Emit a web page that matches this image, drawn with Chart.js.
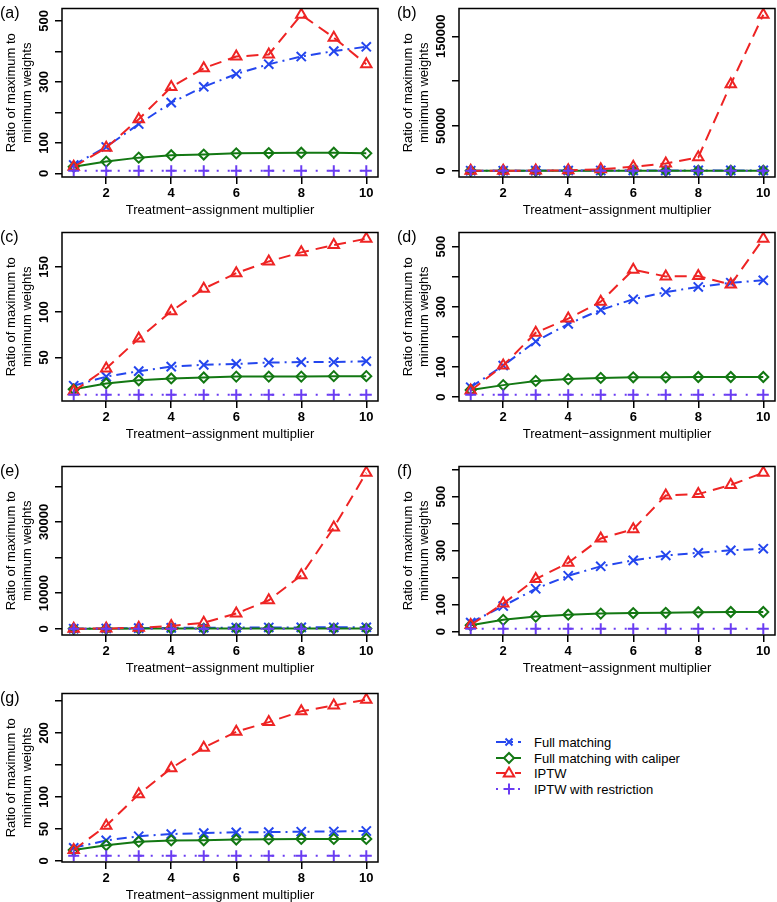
<!DOCTYPE html>
<html>
<head>
<title>Ratio of maximum to minimum weights</title>
<script src="https://cdn.jsdelivr.net/npm/chart.js"></script>
<style>
  body { margin: 0; width: 777px; height: 902px; overflow: hidden; background: #fff; position: relative; }
  canvas { position: absolute; }
  #legend { position: absolute; left: 496px; top: 735px; font: 13px "Liberation Sans", Arial, sans-serif; color: #000; }
  .row { position: relative; height: 15.5px; }
  .row svg { position: absolute; left: 0; top: 0; }
  .row span { position: absolute; left: 38px; top: 0; line-height: 15.5px; white-space: nowrap; }
</style>
</head>
<body>
<canvas id="pa" width="388" height="222" style="left:0px; top:0px"></canvas>
<canvas id="pb" width="388" height="222" style="left:397px; top:0px"></canvas>
<canvas id="pc" width="388" height="222" style="left:0px; top:224px"></canvas>
<canvas id="pd" width="388" height="222" style="left:397px; top:224px"></canvas>
<canvas id="pe" width="388" height="222" style="left:0px; top:458px"></canvas>
<canvas id="pf" width="388" height="222" style="left:397px; top:458px"></canvas>
<canvas id="pg" width="388" height="222" style="left:0px; top:685px"></canvas>
<div id="legend"></div>

<script>
// x values and series names
const multiplier = [1, 2, 3, 4, 5, 6, 7, 8, 9, 10];
const xTicks = [2, 4, 6, 8, 10];
const seriesNames = ['Full matching', 'Full matching with caliper', 'IPTW', 'IPTW with restriction'];

// (a)
const aFull    = [28, 87, 162, 232, 284, 326, 358, 383, 401, 415];
const aCaliper = [22, 39, 52, 60, 62, 66, 67, 68, 68, 66];
const aIptw    = [22, 84, 178, 283, 345, 383, 390, 520, 445, 358];
const aRestr   = [9, 9, 9, 9, 9, 9, 9, 9, 9, 9];
const aTicks   = [0, 100, 200, 300, 400, 500];
const aLabels  = ['0', '100', '', '300', '', '500'];

// (b)
const bFull    = [30, 95, 170, 240, 300, 340, 370, 395, 410, 425];
const bCaliper = [20, 40, 55, 62, 65, 68, 69, 70, 70, 70];
const bIptw    = [20, 80, 200, 500, 1600, 4500, 8000, 15000, 96500, 174000];
const bRestr   = [9, 9, 9, 9, 9, 9, 9, 9, 9, 9];
const bTicks   = [0, 50000, 100000, 150000];
const bLabels  = ['0', '50000', '', '150000'];

// (c)
const cFull    = [19, 29, 35, 40, 42, 43, 44.5, 45, 45, 46];
const cCaliper = [15, 21.5, 25, 27, 28, 29, 29, 29, 29.5, 29.5];
const cIptw    = [12.8, 38, 71, 101, 126, 143, 156, 166, 174, 181];
const cRestr   = [9, 9, 9, 9, 9, 9, 9, 9, 9, 9];
const cTicks   = [50, 100, 150];
const cLabels  = ['50', '100', '150'];

// (d)
const dFull    = [33, 105, 185, 243, 290, 325, 349, 366, 380, 388];
const dCaliper = [24, 40, 54, 60, 64, 66, 66, 67, 67, 67];
const dIptw    = [22, 105, 214, 261, 317, 423, 401, 402, 374, 526];
const dRestr   = [8, 8, 8, 8, 8, 8, 8, 8, 8, 8];
const dTicks   = [0, 100, 200, 300, 400, 500];
const dLabels  = ['0', '100', '', '300', '', '500'];

// (e)
const eFull    = [30, 100, 180, 250, 300, 340, 370, 390, 410, 420];
const eCaliper = [20, 40, 55, 62, 66, 68, 69, 70, 70, 70];
const eIptw    = [20, 80, 280, 800, 1700, 4300, 8000, 15000, 28400, 43800];
const eRestr   = [9, 9, 9, 9, 9, 9, 9, 9, 9, 9];
const eTicks   = [0, 10000, 20000, 30000, 40000];
const eLabels  = ['0', '10000', '', '30000', ''];

// (f)
const fFull    = [34, 95, 159, 207, 242, 264, 282, 292, 301, 307];
const fCaliper = [24, 44, 56, 63, 67, 69, 70, 72, 73, 73];
const fIptw    = [25, 104, 195, 255, 345, 379, 504, 509, 543, 588];
const fRestr   = [11, 11, 11, 11, 11, 11, 11, 11, 11, 11];
const fTicks   = [0, 100, 200, 300, 400, 500, 600];
const fLabels  = ['0', '100', '', '300', '', '500', ''];

// (g)
const gFull    = [20.5, 32, 38.5, 42, 43.5, 44.6, 45, 45.6, 46, 46.7];
const gCaliper = [17, 24.6, 30, 32, 32.3, 33.3, 34, 34.4, 34.4, 34.4];
const gIptw    = [17, 55, 104, 145, 177, 202, 217, 234, 243, 252];
const gRestr   = [8, 8, 8, 8, 8, 8, 8, 8, 8, 8];
const gTicks   = [0, 50, 100, 150, 200, 250];
const gLabels  = ['0', '50', '100', '', '200', ''];

const FONT = '"Liberation Sans", Arial, Helvetica, sans-serif';
Chart.defaults.font.family = FONT;
Chart.defaults.color = '#000';

const styles = [
    { color: '#2446ee', point: 'crossRot', radius: 6.5, dash: [10, 5, 2, 5] },
    { color: '#137813', point: 'rectRot',  radius: 5,   dash: [] },
    { color: '#ee2424', point: 'triangle', radius: 6,   dash: [12, 7] },
    { color: '#6a3cf2', point: 'cross',    radius: 5.5, dash: [2, 9] }
];

// box round the plot, rotated y labels, panel letter
const framePlugin = {
    id: 'frame',
    afterDraw(chart, args, opts) {
        const ctx = chart.ctx, a = chart.chartArea, y = chart.scales.y;
        ctx.save();
        ctx.strokeStyle = '#000';
        ctx.lineWidth = 1.5;
        ctx.strokeRect(a.left, a.top, a.right - a.left, a.bottom - a.top);
        ctx.fillStyle = '#000';
        ctx.font = 'bold 13px ' + FONT;
        ctx.textAlign = 'center';
        ctx.textBaseline = 'middle';
        opts.ticks.forEach(function(v, i) {
            if (!opts.labels[i]) return;
            ctx.save();
            ctx.translate(a.left - 18, y.getPixelForValue(v));
            ctx.rotate(-Math.PI / 2);
            ctx.fillText(opts.labels[i], 0, 0);
            ctx.restore();
        });
        ctx.font = '16px ' + FONT;
        ctx.textAlign = 'left';
        ctx.fillText(opts.letter, 0, a.top + 5);
        ctx.restore();
    }
};

function newPanel(id, letter, series, ticks, labels) {
    const all = [].concat(series[0], series[1], series[2], series[3]);
    const lo = Math.min.apply(null, all), hi = Math.max.apply(null, all);
    const pad = (hi - lo) * 0.04;
    const datasets = series.map(function(d, i) {
        const s = styles[i];
        return {
            label: seriesNames[i],
            data: multiplier.map(function(x, j) { return { x: x, y: d[j] }; }),
            borderColor: s.color,
            backgroundColor: 'rgba(0,0,0,0)',
            borderWidth: 2,
            borderDash: s.dash,
            pointStyle: s.point,
            pointRadius: s.radius,
            pointBorderWidth: 2,
            pointBorderColor: s.color,
            pointBackgroundColor: 'rgba(0,0,0,0)',
            order: 4 - i
        };
    });
    const grid = { drawOnChartArea: false, drawTicks: true, tickLength: 7, color: '#000', lineWidth: 1.5 };
    return new Chart(document.getElementById(id), {
        type: 'line',
        data: { datasets: datasets },
        plugins: [framePlugin],
        options: {
            responsive: false,
            animation: false,
            layout: { padding: { top: 5, right: 10, bottom: 0, left: 0 } },
            scales: {
                x: {
                    type: 'linear',
                    min: 1 - 0.36,
                    max: 10 + 0.36,
                    afterBuildTicks: function(s) { s.ticks = xTicks.map(function(v) { return { value: v }; }); },
                    afterFit: function(s) { s.height = 45; },
                    grid: grid,
                    border: { display: false },
                    ticks: { font: { size: 13, weight: 'bold' }, padding: 2, maxRotation: 0, autoSkip: false },
                    title: { display: true, text: 'Treatment\u2212assignment multiplier', font: { size: 13 }, padding: { top: 0, bottom: 4 } }
                },
                y: {
                    min: lo - pad,
                    max: hi + pad,
                    afterBuildTicks: function(s) { s.ticks = ticks.map(function(v) { return { value: v }; }); },
                    afterFit: function(s) { s.width = 62; },
                    grid: grid,
                    border: { display: false },
                    ticks: { display: false },
                    title: { display: true, text: ['Ratio of maximum to', 'minimum weights'], font: { size: 13 }, padding: { top: 4, bottom: 0 } }
                }
            },
            plugins: {
                legend: { display: false },
                tooltip: { enabled: false },
                frame: { ticks: ticks, labels: labels, letter: letter }
            }
        }
    });
}

newPanel('pa', '(a)', [aFull, aCaliper, aIptw, aRestr], aTicks, aLabels);
newPanel('pb', '(b)', [bFull, bCaliper, bIptw, bRestr], bTicks, bLabels);
newPanel('pc', '(c)', [cFull, cCaliper, cIptw, cRestr], cTicks, cLabels);
newPanel('pd', '(d)', [dFull, dCaliper, dIptw, dRestr], dTicks, dLabels);
newPanel('pe', '(e)', [eFull, eCaliper, eIptw, eRestr], eTicks, eLabels);
newPanel('pf', '(f)', [fFull, fCaliper, fIptw, fRestr], fTicks, fLabels);
newPanel('pg', '(g)', [gFull, gCaliper, gIptw, gRestr], gTicks, gLabels);

// legend: short line sample with marker, then name
function marker(kind, c) {
    const st = 'stroke="' + c + '" stroke-width="2" fill="none"';
    if (kind === 'crossRot') return '<path d="M9.5 3.5 L16.5 10.5 M16.5 3.5 L9.5 10.5" ' + st + '/>';
    if (kind === 'rectRot') return '<polygon points="13,2 18,7 13,12 8,7" fill="#fff" stroke="' + c + '" stroke-width="2"/>';
    if (kind === 'triangle') return '<polygon points="13,1.5 18.2,10.5 7.8,10.5" fill="#fff" stroke="' + c + '" stroke-width="2"/>';
    return '<path d="M13 1.5 L13 12.5 M7.5 7 L18.5 7" ' + st + '/>';
}
var html = '';
seriesNames.forEach(function(name, i) {
    const s = styles[i];
    html += '<div class="row"><svg width="28" height="15">' +
        '<line x1="0" y1="7" x2="25" y2="7" stroke="' + s.color + '" stroke-width="2" stroke-dasharray="' + (s.dash.length ? s.dash.join(' ') : 'none') + '"/>' +
        marker(s.point, s.color) + '</svg><span>' + name + '</span></div>';
});
document.getElementById('legend').innerHTML = html;
</script>
</body>
</html>
